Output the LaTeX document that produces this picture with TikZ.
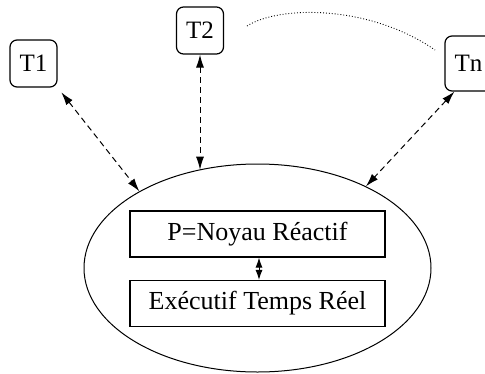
\documentclass[tikz,border=0pt]{standalone}
\usepackage{fontspec}
\setmainfont{Liberation Serif}
\usetikzlibrary{shapes.geometric,arrows.meta,calc}
\begin{document}
\begin{tikzpicture}[x=1pt,y=-1pt,line width=1.1pt,
  tbox/.style={draw,line width=1.2pt,rounded corners=7pt,minimum width=47pt,minimum height=47pt,inner sep=0pt,font=\fontspec{Liberation Serif}\fontsize{25}{28}\selectfont},
  kbox/.style={draw,line width=1.2pt,minimum width=255pt,minimum height=46pt,inner sep=0pt,font=\fontspec{Liberation Serif}\fontsize{26}{30}\selectfont},
  link/.style={dashed,dash pattern=on 6pt off 4pt,line width=1pt,{Latex[length=13pt,width=8pt]}-{Latex[length=13pt,width=8pt]}},
  tie/.style={line width=1pt,{Latex[length=10pt,width=7pt]}-{Latex[length=10pt,width=7pt]}}]
\useasboundingbox (0,0) rectangle (485,373);
\node[draw,ellipse,minimum width=347pt,minimum height=208pt,inner sep=0pt,line width=1pt] (ell) at (257.5,268) {};
\node[kbox] (P) at (257.5,234) {P=Noyau Réactif};
\node[kbox] (E) at (257.5,303.5) {Exécutif Temps Réel};
\node[tbox] (T1) at (33.5,63.5) {T1};
\node[tbox] (T2) at (200,30.5) {T2};
\node[tbox,minimum height=55pt] (Tn) at (468.5,63.5) {Tn};
\draw[link,shorten <=6pt] (T1.south east) -- (ell.147.5);
\draw[link] (T2.south) -- (T2.south |- ell.121);
\draw[link] ($(Tn.south west)+(10,0)$) -- (ell.37.4);
\draw[tie] ($(P.south)+(1.5,0)$) -- ($(E.north)+(1.5,0)$);
\coordinate (a) at (247,26);
\coordinate (b) at (435,50);
\draw[dotted,line width=0.9pt] (a) .. controls (280,5) and (370,5) .. (b);
\end{tikzpicture}
\end{document}
